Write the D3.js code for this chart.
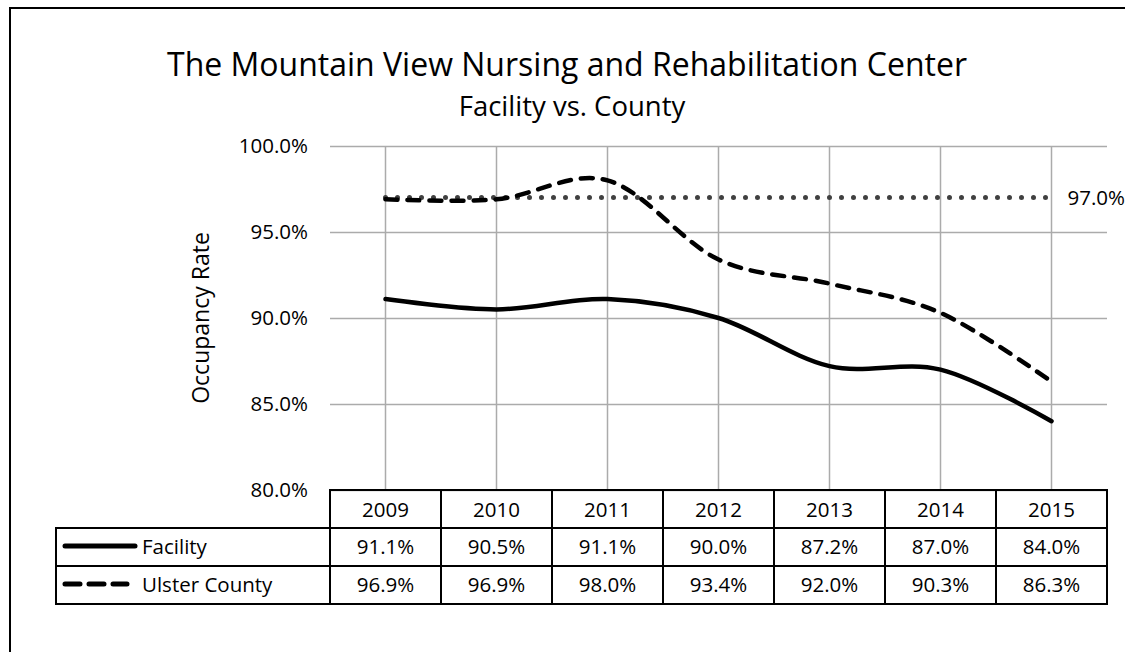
<!DOCTYPE html>
<html>
<head>
<meta charset="utf-8">
<script src="https://cdn.jsdelivr.net/npm/d3@7"></script>
<style>
  body { margin: 0; background: #fff; }
  svg { display: block; font-family: "Open Sans", "DejaVu Sans", sans-serif; }
</style>
</head>
<body>
<div id="chart"></div>
<script>
// data
var years = ["2009", "2010", "2011", "2012", "2013", "2014", "2015"];
var facility = [91.1, 90.5, 91.1, 90.0, 87.2, 87.0, 84.0];
var county = [96.9, 96.9, 98.0, 93.4, 92.0, 90.3, 86.3];
var benchmark = [97.0, 97.0, 97.0, 97.0, 97.0, 97.0, 97.0];
var yTicks = [80, 85, 90, 95, 100];
var seriesNames = ["Facility", "Ulster County"];

var w = 1125, h = 652;
var plot = { left: 330, right: 1107, top: 146, bottom: 490 };
var rowH = 38;
var fs = 20.5;

var svg = d3.select("#chart").append("svg")
	.attr("width", w)
	.attr("height", h);

// outer chart border (runs past the window on the right and bottom)
svg.append("rect")
	.attr("x", 10).attr("y", 8)
	.attr("width", 1140).attr("height", 680)
	.attr("fill", "none")
	.attr("stroke", "#000")
	.attr("stroke-width", 2);

var x = d3.scaleBand().domain(years).range([plot.left, plot.right]);
var y = d3.scaleLinear().domain([80, 100]).range([plot.bottom, plot.top]);
var cx = function(d) { return x(d) + x.bandwidth() / 2; };

// titles
svg.append("text")
	.attr("x", 567).attr("y", 76)
	.attr("text-anchor", "middle")
	.attr("font-size", 32)
	.text("The Mountain View Nursing and Rehabilitation Center");
svg.append("text")
	.attr("x", 572).attr("y", 116)
	.attr("text-anchor", "middle")
	.attr("font-size", 27.5)
	.text("Facility vs. County");

// horizontal grid + y ticks
var yAxis = d3.axisLeft(y)
	.tickValues(yTicks)
	.tickSize(-(plot.right - plot.left))
	.tickPadding(22)
	.tickFormat(function(d) { return d.toFixed(1) + "%"; });
var ga = svg.append("g")
	.attr("transform", "translate(" + plot.left + ",0)")
	.call(yAxis);
ga.select(".domain").remove();
ga.selectAll(".tick line").attr("stroke", "#ababab").attr("stroke-width", 1.5);
ga.selectAll(".tick text").attr("font-size", fs).attr("fill", "#000")
	.attr("font-family", "'Open Sans', sans-serif");

// vertical grid at category centers
svg.append("g").selectAll("line")
	.data(years)
	.enter().append("line")
	.attr("x1", cx).attr("x2", cx)
	.attr("y1", plot.top).attr("y2", plot.bottom)
	.attr("stroke", "#ababab")
	.attr("stroke-width", 1.5);

svg.append("text")
	.attr("transform", "translate(209," + ((plot.top + plot.bottom) / 2) + ") rotate(-90)")
	.attr("text-anchor", "middle")
	.attr("font-size", 23)
	.text("Occupancy Rate");

// lines
var smooth = d3.line()
	.x(function(d, i) { return cx(years[i]); })
	.y(function(d) { return y(d); })
	.curve(d3.curveCardinal.tension(0));

svg.append("path")
	.datum(benchmark)
	.attr("d", d3.line()
		.x(function(d, i) { return cx(years[i]); })
		.y(function(d) { return y(d); }))
	.attr("fill", "none")
	.attr("stroke", "#404040")
	.attr("stroke-width", 5)
	.attr("stroke-linecap", "round")
	.attr("stroke-dasharray", "0 12");

svg.append("text")
	.attr("x", cx(years[years.length - 1]) + 16)
	.attr("y", y(benchmark[benchmark.length - 1]) + 7)
	.attr("font-size", fs)
	.text(benchmark[benchmark.length - 1].toFixed(1) + "%");

svg.append("path")
	.datum(county)
	.attr("d", smooth)
	.attr("fill", "none")
	.attr("stroke", "#000")
	.attr("stroke-width", 4.5)
	.attr("stroke-linecap", "round")
	.attr("stroke-dasharray", "12 10");

svg.append("path")
	.datum(facility)
	.attr("d", smooth)
	.attr("fill", "none")
	.attr("stroke", "#000")
	.attr("stroke-width", 4.5)
	.attr("stroke-linecap", "round");

// data table
var table = svg.append("g");
var rows = [facility, county];
var tLeft = 56;

// header row
table.selectAll(".hcell")
	.data(years)
	.enter().append("rect")
	.attr("x", function(d) { return x(d); })
	.attr("y", plot.bottom)
	.attr("width", x.bandwidth())
	.attr("height", rowH)
	.attr("fill", "none")
	.attr("stroke", "#000")
	.attr("stroke-width", 2);
table.selectAll(".htext")
	.data(years)
	.enter().append("text")
	.attr("x", cx)
	.attr("y", plot.bottom + 27)
	.attr("text-anchor", "middle")
	.attr("font-size", fs)
	.text(function(d) { return d; });

rows.forEach(function(vals, r) {
	var top = plot.bottom + rowH * (r + 1);
	table.append("rect")
		.attr("x", tLeft).attr("y", top)
		.attr("width", plot.left - tLeft).attr("height", rowH)
		.attr("fill", "none").attr("stroke", "#000").attr("stroke-width", 2);
	table.selectAll(".c" + r)
		.data(vals)
		.enter().append("rect")
		.attr("x", function(d, i) { return x(years[i]); })
		.attr("y", top)
		.attr("width", x.bandwidth())
		.attr("height", rowH)
		.attr("fill", "none")
		.attr("stroke", "#000")
		.attr("stroke-width", 2);
	table.selectAll(".t" + r)
		.data(vals)
		.enter().append("text")
		.attr("x", function(d, i) { return cx(years[i]); })
		.attr("y", top + 26)
		.attr("text-anchor", "middle")
		.attr("font-size", fs)
		.text(function(d) { return d.toFixed(1) + "%"; });

	// legend key
	var key = table.append("line")
		.attr("x1", 65).attr("x2", 135)
		.attr("y1", top + 18).attr("y2", top + 18)
		.attr("stroke", "#000")
		.attr("stroke-width", 5)
		.attr("stroke-linecap", "round");
	if (r === 1) key.attr("x2", 127).attr("stroke-dasharray", "15 9");
	table.append("text")
		.attr("x", 142)
		.attr("y", top + 26)
		.attr("font-size", fs)
		.text(seriesNames[r]);
});
</script>
</body>
</html>
